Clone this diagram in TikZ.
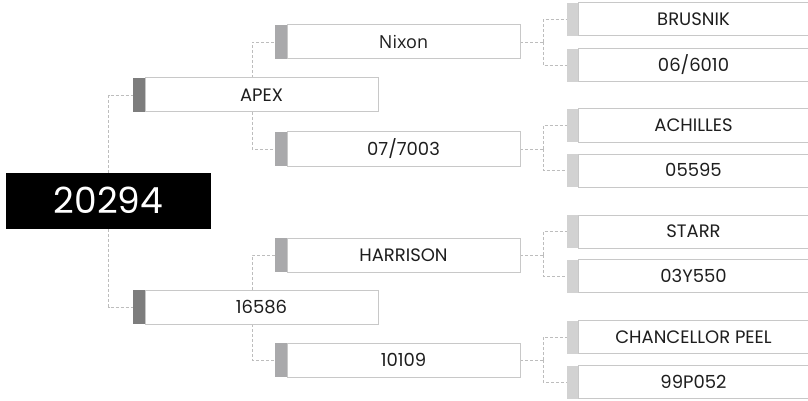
\documentclass[tikz,border=0pt]{standalone}
\usepackage{fontspec}
\setmainfont{Poppins}
\newfontfamily\nixonfont{Open Sans}
\usetikzlibrary{backgrounds}
\definecolor{barA}{HTML}{7D7D7D}
\definecolor{barB}{HTML}{A9A9AB}
\definecolor{barC}{HTML}{D2D2D2}
\definecolor{boxline}{HTML}{C8C8C8}
\definecolor{dashline}{HTML}{BDBDBD}
\definecolor{ink}{HTML}{1E1E1E}
\tikzset{
  box/.style={draw=boxline, line width=1pt, fill=white, minimum height=34pt,
    inner sep=0pt, outer sep=0pt, text height=12.6pt, text depth=0pt,
    font=\fontsize{18}{18}\selectfont, text=ink},
  lvlone/.style={box, minimum width=233pt},
  lvltwo/.style={box, minimum width=233pt},
  lvlthree/.style={box, minimum width=231pt, minimum height=33pt},
  barbox/.style={draw=none, inner sep=0pt, outer sep=0pt, minimum width=12pt, anchor=east},
  conn/.style={draw=dashline, dash pattern=on 3pt off 2pt, line width=0.9pt},
  rootbox/.style={fill=black, minimum width=205pt, minimum height=56pt, inner sep=0pt,
    text=white, font=\fontsize{36}{36}\selectfont, text height=25pt, text depth=0pt}
}
\begin{document}
\begin{tikzpicture}[x=1pt,y=-1pt]
\useasboundingbox (0,0) rectangle (808,401);
% root
\node[rootbox] (root) at (108.5,201) {20294};
% level 1
\node[lvlone] (apex) at (261.5,95) {APEX};
\node[barbox, fill=barA, minimum height=34pt] (apexbar) at (apex.west) {};
\node[lvlone] (n16586) at (261.5,307) {16586};
\node[barbox, fill=barA, minimum height=34pt] (n16586bar) at (n16586.west) {};
% level 2
\node[lvltwo] (nixon) at (403.5,42) {\nixonfont\fontsize{18}{18}\selectfont Nixon};
\node[barbox, fill=barB, minimum height=34pt] (nixonbar) at (nixon.west) {};
\node[lvltwo] (n07) at (403.5,149) {07/7003};
\node[barbox, fill=barB, minimum height=34pt] (n07bar) at (n07.west) {};
\node[lvltwo] (harrison) at (403.5,255) {HARRISON};
\node[barbox, fill=barB, minimum height=34pt] (harrisonbar) at (harrison.west) {};
\node[lvltwo] (n10109) at (403.5,360) {10109};
\node[barbox, fill=barB, minimum height=34pt] (n10109bar) at (n10109.west) {};
% level 3
\node[lvlthree] (brusnik) at (693.5,19.5) {BRUSNIK};
\node[barbox, fill=barC, minimum height=33pt, minimum width=11pt] (brusnikbar) at (brusnik.west) {};
\node[lvlthree] (n06) at (693.5,65.5) {06/6010};
\node[barbox, fill=barC, minimum height=33pt, minimum width=11pt] (n06bar) at (n06.west) {};
\node[lvlthree] (achilles) at (693.5,125.5) {ACHILLES};
\node[barbox, fill=barC, minimum height=33pt, minimum width=11pt] (achillesbar) at (achilles.west) {};
\node[lvlthree] (n05595) at (693.5,170.5) {05595};
\node[barbox, fill=barC, minimum height=33pt, minimum width=11pt] (n05595bar) at (n05595.west) {};
\node[lvlthree] (starr) at (693.5,231.5) {STARR};
\node[barbox, fill=barC, minimum height=33pt, minimum width=11pt] (starrbar) at (starr.west) {};
\node[lvlthree] (n03) at (693.5,276) {03Y550};
\node[barbox, fill=barC, minimum height=33pt, minimum width=11pt] (n03bar) at (n03.west) {};
\node[lvlthree] (peel) at (693.5,337) {CHANCELLOR PEEL};
\node[barbox, fill=barC, minimum height=33pt, minimum width=11pt] (peelbar) at (peel.west) {};
\node[lvlthree] (n99) at (693.5,382) {99P052};
\node[barbox, fill=barC, minimum height=33pt, minimum width=11pt] (n99bar) at (n99.west) {};
% connectors
\begin{scope}[on background layer]
\draw[conn] (root.north) |- (apexbar.west);
\draw[conn] (root.south) |- (n16586bar.west);
\draw[conn] ([xshift=-9.5pt]apex.north) |- (nixonbar.west);
\draw[conn] ([xshift=-9.5pt]apex.south) |- (n07bar.west);
\draw[conn] ([xshift=-9.5pt]n16586.north) |- (harrisonbar.west);
\draw[conn] ([xshift=-9.5pt]n16586.south) |- (n10109bar.west);
\draw[conn] (nixon.east) -- ++(23pt,0) coordinate (j1);
\draw[conn] (j1) |- (brusnikbar.west);
\draw[conn] (j1) |- (n06bar.west);
\draw[conn] (n07.east) -- ++(23pt,0) coordinate (j2);
\draw[conn] (j2) |- (achillesbar.west);
\draw[conn] (j2) |- (n05595bar.west);
\draw[conn] (harrison.east) -- ++(23pt,0) coordinate (j3);
\draw[conn] (j3) |- (starrbar.west);
\draw[conn] (j3) |- (n03bar.west);
\draw[conn] (n10109.east) -- ++(23pt,0) coordinate (j4);
\draw[conn] (j4) |- (peelbar.west);
\draw[conn] (j4) |- (n99bar.west);
\end{scope}
\end{tikzpicture}
\end{document}
